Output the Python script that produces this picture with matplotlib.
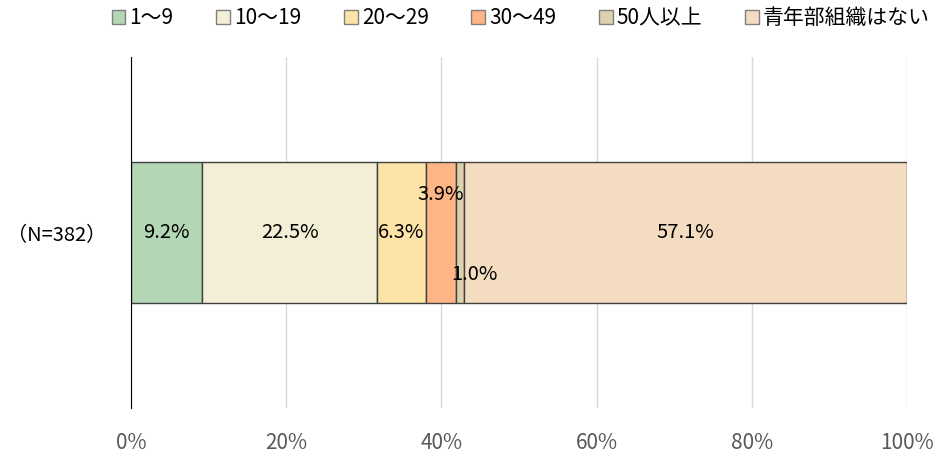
import matplotlib
matplotlib.use("Agg")
import matplotlib.pyplot as plt
from matplotlib.patches import Patch

plt.rcParams['font.family'] = ['Noto Sans CJK JP', 'DejaVu Sans']

categories = ["1～9", "10～19", "20～29", "30～49", "50人以上", "青年部組織はない"]
values = [9.2, 22.5, 6.3, 3.9, 1.0, 57.1]
colors = ["#B3D7B5", "#F3EED6", "#FDE3A7", "#FDB585", "#DCD2B0", "#F3DCC0"]
row_label = "（N=382）"

fig = plt.figure(figsize=(9.35, 4.57), dpi=100)
ax = fig.add_axes([0.1401, 0.107, 0.830, 0.768])

left = 0
for i, (cat, v, c) in enumerate(zip(categories, values, colors)):
    ax.barh(0, v, left=left, height=0.4, color=c, edgecolor="#404040", linewidth=1, zorder=3)
    x = left + v / 2
    y = 0
    if cat == "30～49":
        y = 0.11
    elif cat == "50人以上":
        y = -0.12
        x += 1.9
    ax.text(x, y, f"{v:.1f}%", ha="center", va="center", fontsize=14.5, color="black", zorder=4)
    left += v

ax.set_xlim(0, 100)
ax.set_ylim(-0.5, 0.5)
ax.set_xticks(range(0, 101, 20))
ax.set_xticklabels([f"{t}%" for t in range(0, 101, 20)], color="#595959", fontsize=15)
ax.set_yticks([0])
ax.set_yticklabels([row_label], fontsize=14.5)
ax.tick_params(axis="both", length=0)
ax.tick_params(axis="x", pad=17)
ax.tick_params(axis="y", pad=18)
ax.grid(axis="x", color="#D9D9D9", linewidth=1, zorder=0)
for s in ["top", "right", "bottom"]:
    ax.spines[s].set_visible(False)
ax.spines["left"].set_color("black")
ax.spines["left"].set_linewidth(0.8)
ax.spines["left"].set_zorder(5)

handles = [Patch(facecolor=c, edgecolor="#7F7F7F", label=cat) for cat, c in zip(categories, colors)]
fig.legend(handles=handles, loc="upper center", bbox_to_anchor=(0.557, 1.025), ncol=6, frameon=False,
           fontsize=15, handlelength=0.65, handleheight=0.65, handletextpad=0.2, columnspacing=2.05)

fig.savefig("out.png", dpi=100)
